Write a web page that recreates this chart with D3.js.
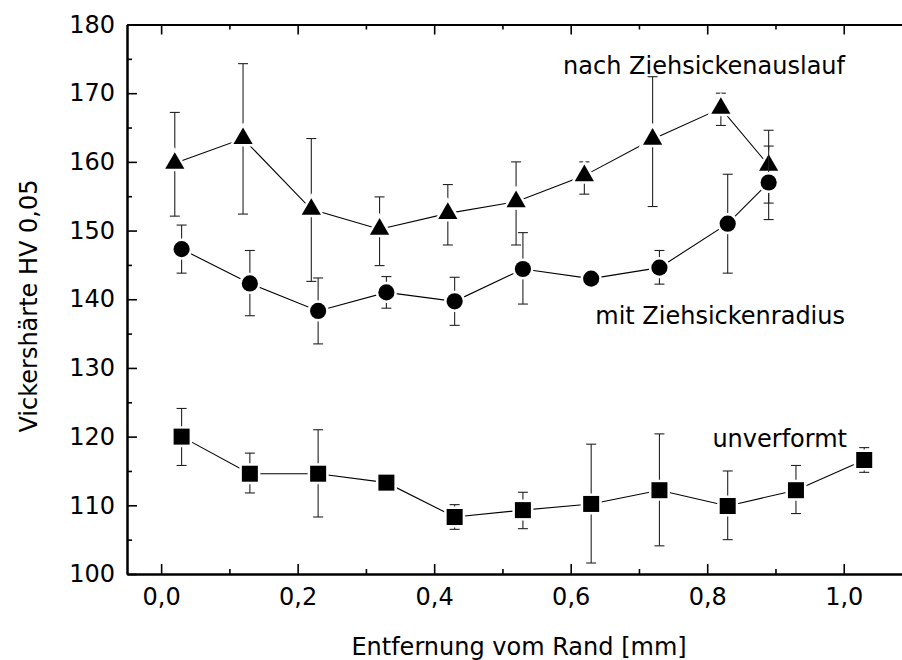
<!DOCTYPE html>
<html>
<head>
<meta charset="utf-8">
<script src="https://cdn.jsdelivr.net/npm/d3@7"></script>
<style>
  body { margin: 0; background: #fff; }
  svg { display: block; }
  text { font-family: "DejaVu Sans", Verdana, sans-serif; fill: #000; }
</style>
</head>
<body>
<div class="chart"></div>
<script>
// nach Ziehsickenauslauf (triangles)
const triX = [0.02, 0.12, 0.22, 0.32, 0.42, 0.52, 0.62, 0.72, 0.82, 0.89];
const triY = [159.8, 163.4, 153.1, 150.2, 152.5, 154.2, 158.0, 163.3, 167.8, 159.5];
const triHi = [167.2, 174.3, 163.4, 154.9, 156.7, 160.0, 160.0, 172.4, 170.0, 164.6];
const triLo = [152.1, 152.4, 142.6, 144.9, 147.9, 147.9, 155.3, 153.5, 165.3, 151.6];

// mit Ziehsickenradius (circles)
const cirX = [0.03, 0.13, 0.23, 0.33, 0.43, 0.53, 0.63, 0.73, 0.83, 0.89];
const cirY = [147.3, 142.3, 138.3, 141.0, 139.7, 144.4, 143.0, 144.6, 151.0, 157.0];
const cirHi = [150.8, 147.1, 143.1, 143.3, 143.2, 149.7, 143.8, 147.1, 158.2, 162.3];
const cirLo = [143.8, 137.6, 133.5, 138.7, 136.2, 139.3, 142.2, 142.2, 143.8, 154.0];

// unverformt (squares)
const sqX = [0.03, 0.13, 0.23, 0.33, 0.43, 0.53, 0.63, 0.73, 0.83, 0.93, 1.03];
const sqY = [120.0, 114.6, 114.6, 113.3, 108.3, 109.3, 110.2, 112.2, 109.9, 112.2, 116.6];
const sqHi = [124.1, 117.6, 121.0, 113.8, 110.1, 111.9, 118.9, 120.4, 115.0, 115.8, 118.4];
const sqLo = [115.8, 111.8, 108.3, 112.8, 106.5, 106.6, 101.6, 104.1, 105.0, 108.8, 114.8];

const seriesNames = ["nach Ziehsickenauslauf", "mit Ziehsickenradius", "unverformt"];

const xMajor = [0, 0.2, 0.4, 0.6, 0.8, 1.0];
const xMinor = [0.1, 0.3, 0.5, 0.7, 0.9, 1.1];
const yMajor = [100, 110, 120, 130, 140, 150, 160, 170, 180];
const yMinor = [105, 115, 125, 135, 145, 155, 165, 175];

const svgWidth = 902, svgHeight = 660;
const margin = {top: 24.5, left: 127, right: -10, bottom: 86};
const width = svgWidth - margin.left - margin.right;
const height = svgHeight - margin.top - margin.bottom;

const xLinearScale = d3.scaleLinear().domain([-0.05, 1.1]).range([0, width]);
const yLinearScale = d3.scaleLinear().domain([100, 180]).range([height, 0]);
const fmtComma = d => d3.format(".1f")(d).replace(".", ",");

const svg = d3.select(".chart").append("svg")
    .attr("width", svgWidth)
    .attr("height", svgHeight);

const chartGroup = svg.append("g")
    .attr("transform", `translate(${margin.left}, ${margin.top})`);

// axes: major + minor ticks, inward
function styleAxis(g) {
    g.attr("font-family", null).attr("font-size", null);
    g.select(".domain").attr("stroke-width", 2).attr("stroke", "#000");
    g.selectAll(".tick line").attr("stroke-width", 1.6).attr("stroke", "#000");
    g.selectAll(".tick text").style("font-size", "24px");
}

// bottom
chartGroup.append("g")
    .attr("transform", `translate(0, ${height})`)
    .call(d3.axisBottom(xLinearScale).tickValues(xMinor).tickSize(-5).tickSizeOuter(0).tickFormat(""))
    .call(styleAxis);
chartGroup.append("g")
    .attr("transform", `translate(0, ${height})`)
    .call(d3.axisBottom(xLinearScale).tickValues(xMajor).tickSize(-10).tickSizeOuter(0)
        .tickPadding(14).tickFormat(fmtComma))
    .call(styleAxis);

// top
chartGroup.append("g")
    .call(d3.axisTop(xLinearScale).tickValues(xMinor).tickSize(-5).tickSizeOuter(0).tickFormat(""))
    .call(styleAxis);
chartGroup.append("g")
    .call(d3.axisTop(xLinearScale).tickValues(xMajor).tickSize(-10).tickSizeOuter(0).tickFormat(""))
    .call(styleAxis);

// left
chartGroup.append("g")
    .call(d3.axisLeft(yLinearScale).tickValues(yMinor).tickSize(-5).tickSizeOuter(0).tickFormat(""))
    .call(styleAxis);
chartGroup.append("g")
    .call(d3.axisLeft(yLinearScale).tickValues(yMajor).tickSize(-10).tickSizeOuter(0)
        .tickPadding(12).tickFormat(d3.format("d")))
    .call(styleAxis);

// right
chartGroup.append("g")
    .attr("transform", `translate(${width}, 0)`)
    .call(d3.axisRight(yLinearScale).tickValues(yMinor).tickSize(-5).tickSizeOuter(0).tickFormat(""))
    .call(styleAxis);
chartGroup.append("g")
    .attr("transform", `translate(${width}, 0)`)
    .call(d3.axisRight(yLinearScale).tickValues(yMajor).tickSize(-10).tickSizeOuter(0).tickFormat(""))
    .call(styleAxis);

// series
const series = [
    {x: triX, y: triY, hi: triHi, lo: triLo, symbol: d3.symbolTriangle, size: 160},
    {x: cirX, y: cirY, hi: cirHi, lo: cirLo, symbol: d3.symbolCircle, size: 205},
    {x: sqX, y: sqY, hi: sqHi, lo: sqLo, symbol: d3.symbolSquare, size: 256}
];

const line = d3.line()
    .x(d => xLinearScale(d[0]))
    .y(d => yLinearScale(d[1]));

series.forEach(s => {
    const pts = s.x.map((xv, i) => ({x: xv, y: s.y[i], hi: s.hi[i], lo: s.lo[i]}));
    const g = chartGroup.append("g");

    // error bars
    const eb = g.selectAll(".err").data(pts).enter().append("g").attr("class", "err")
        .attr("stroke", "#222").attr("stroke-width", 1.1);
    eb.append("line")
        .attr("x1", d => xLinearScale(d.x)).attr("x2", d => xLinearScale(d.x))
        .attr("y1", d => yLinearScale(d.hi)).attr("y2", d => yLinearScale(d.lo));
    eb.append("line")
        .attr("x1", d => xLinearScale(d.x) - 5).attr("x2", d => xLinearScale(d.x) + 5)
        .attr("y1", d => yLinearScale(d.hi)).attr("y2", d => yLinearScale(d.hi));
    eb.append("line")
        .attr("x1", d => xLinearScale(d.x) - 5).attr("x2", d => xLinearScale(d.x) + 5)
        .attr("y1", d => yLinearScale(d.lo)).attr("y2", d => yLinearScale(d.lo));

    // connecting line
    g.append("path")
        .datum(pts.map(d => [d.x, d.y]))
        .attr("fill", "none")
        .attr("stroke", "#000")
        .attr("stroke-width", 1.1)
        .attr("d", line);

    // markers with white halo so lines stop short of them
    g.selectAll(".marker").data(pts).enter().append("path")
        .attr("class", "marker")
        .attr("transform", d => `translate(${xLinearScale(d.x)}, ${yLinearScale(d.y)})`)
        .attr("d", d3.symbol().type(s.symbol).size(s.size))
        .attr("fill", "#000")
        .attr("stroke", "#fff")
        .attr("stroke-width", 5)
        .attr("paint-order", "stroke");
});

// series labels
const labelPos = [[845, 74], [845, 324], [847, 447]];
seriesNames.forEach((name, i) => {
    svg.append("text")
        .attr("x", labelPos[i][0])
        .attr("y", labelPos[i][1])
        .attr("text-anchor", "end")
        .style("font-size", "24px")
        .text(name);
});

// axis titles
svg.append("text")
    .attr("x", 519)
    .attr("y", 655)
    .attr("text-anchor", "middle")
    .style("font-size", "24px")
    .text("Entfernung vom Rand [mm]");

svg.append("text")
    .attr("transform", "translate(37, 306) rotate(-90)")
    .attr("text-anchor", "middle")
    .style("font-size", "24px")
    .text("Vickershärte HV 0,05");
</script>
</body>
</html>
